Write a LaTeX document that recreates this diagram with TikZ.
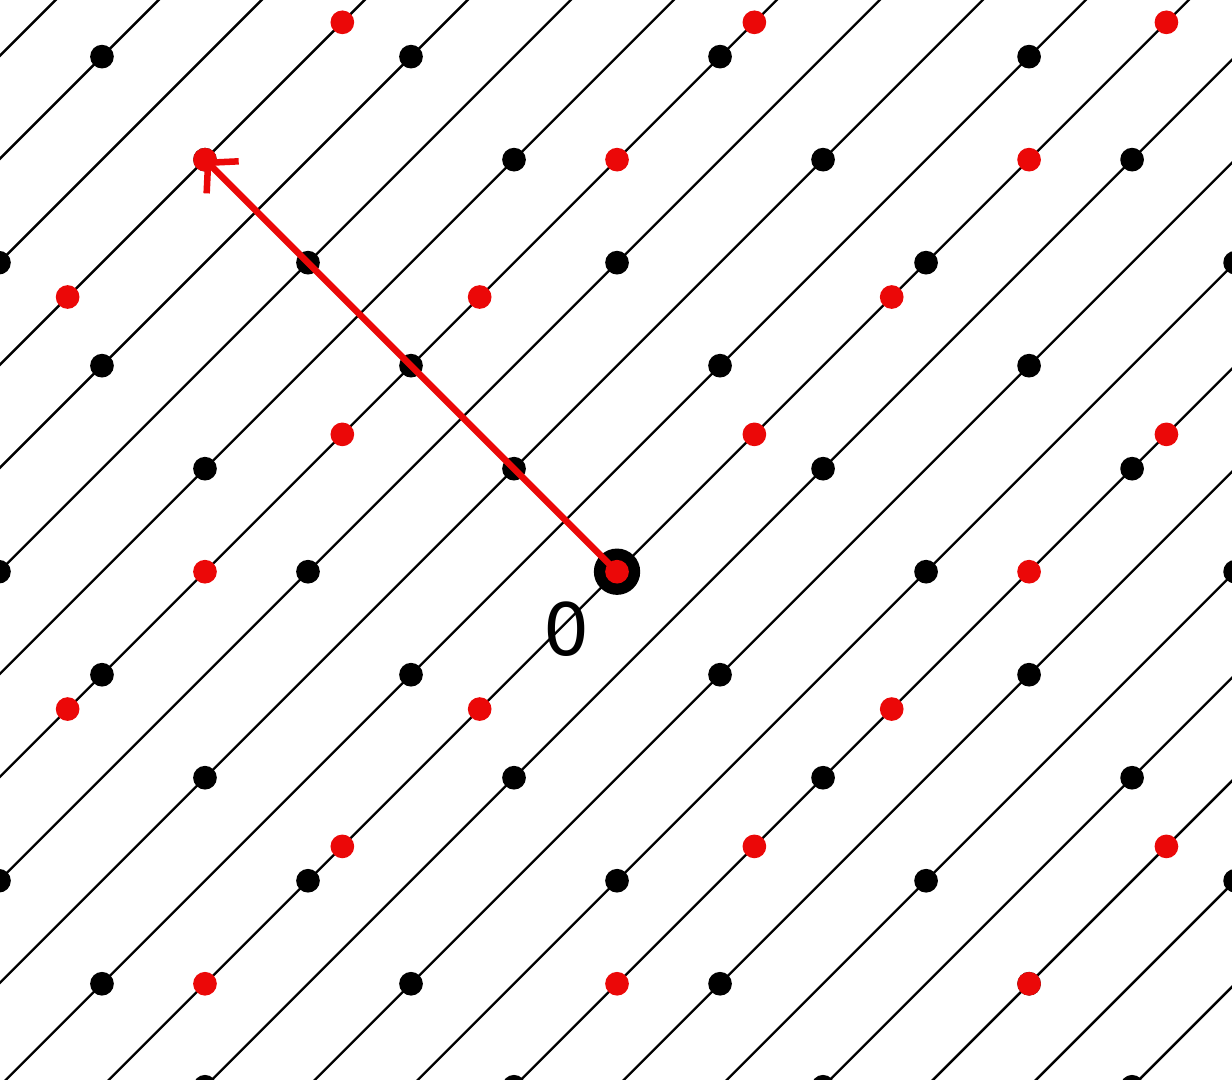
\documentclass[tikz,border=0pt]{standalone}
\usepackage{fontspec}
\newfontfamily\labelfont{DejaVu Sans}
\usetikzlibrary{arrows.meta}
\definecolor{LatRed}{RGB}{235,8,8}

\begin{document}
\begin{tikzpicture}[x=1cm,y=1cm,>={Straight Barb[length=2mm,width=4.4mm]}]
    \tikzset{
      gridline/.style={black,line width=0.65pt},
      blackdot/.style={circle,fill=black,inner sep=0pt,minimum size=2.3mm},
      reddot/.style={circle,fill=LatRed,inner sep=0pt,minimum size=2.3mm},
      origindot/.style={circle,fill=black,inner sep=0pt,minimum size=4.5mm}
    }
    \useasboundingbox (-5.99,-4.93) rectangle (5.97,5.55);
    \begin{scope}
      \clip (-5.99,-4.93) rectangle (5.97,5.55);
      % lines x - y = k
      \foreach \k in {-12,...,11}
        \draw[gridline] (\k-6,-6) -- (\k+6,6);
      % black lattice, basis (3,0) and (-1,1)
      \foreach \j in {-5,...,5}
        \foreach \i in {-3,...,3}
          \node[blackdot] (b\i\j) at ({3*\i-\j},\j) {};
      % red lattice, basis (4,0) and (4/3,4/3)
      \foreach \n in {-3,...,4}
        \foreach \m in {-3,...,3}
          \node[reddot] (r\m\n) at ({4*\m+4*\n/3},{4*\n/3}) {};
    \end{scope}
    \node[origindot] (O) at (0,0) {};
    \node[reddot] (Oin) at (O) {};
    \coordinate (tip) at (-4,4);
    \draw[->,LatRed,line width=1.8pt] (O.center) -- (tip);
    \node[font=\labelfont\fontsize{20}{24}\selectfont] (zero) at (-0.49,-0.56) {0};
  \end{tikzpicture}
\end{document}
